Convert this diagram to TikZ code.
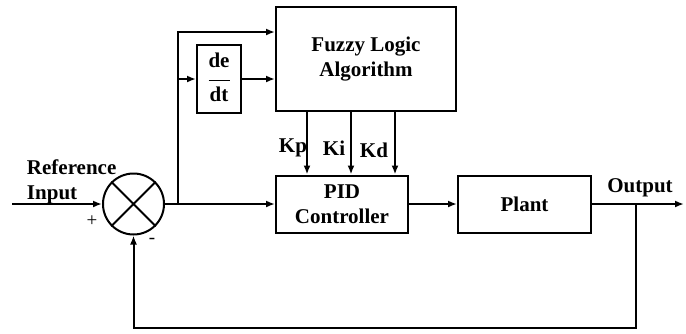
\documentclass[tikz,border=0pt]{standalone}
\usepackage{fontspec}
\setmainfont{Liberation Serif}
\usetikzlibrary{arrows.meta,calc}
\begin{document}
\begin{tikzpicture}[x=1pt,y=-1pt,
  line width=2pt,
  >={Latex[length=9pt,width=7pt]},
  blk/.style={draw,line width=2pt,rectangle,inner sep=0pt,font=\bfseries\fontsize{21}{25}\selectfont,align=center},
  lbl/.style={font=\bfseries\fontsize{21}{25}\selectfont,inner sep=0pt},
  sgn/.style={font=\fontsize{19}{22}\selectfont,inner sep=0pt}]
\useasboundingbox (0,0) rectangle (686,333);
\node[blk,minimum width=180pt,minimum height=104pt] (fuzzy) at (366,59) {Fuzzy Logic\\Algorithm};
\node[blk,minimum width=44pt,minimum height=68pt] (dedt) at (219,79) {\setlength\arrayrulewidth{1.5pt}\begin{tabular}{@{}c@{}}de\\[5pt]\hline\rule{0pt}{20pt}dt\end{tabular}};
\node[blk,minimum width=132pt,minimum height=57pt] (pid) at (342,204) {PID\\Controller};
\node[blk,minimum width=133pt,minimum height=57pt] (plant) at (524.5,204) {Plant};
\node[draw,circle,line width=2pt,minimum size=61pt,inner sep=0pt] (sum) at (133.5,204) {};
\draw (sum.45) -- (sum.225) (sum.135) -- (sum.-45);
\coordinate (in) at (12,204);
\coordinate (br) at (178,204);
\coordinate (out) at (684,204);
\coordinate (fb) at (636,204);
\coordinate (bot) at (636,328);
\draw[->] (in) -- (sum.west);
\draw[->] (sum.east) -- (pid.west);
\draw[->] (br) |- ([yshift=27pt]fuzzy.west);
\draw[->] (br |- dedt.west) -- (dedt.west);
\draw[->] (dedt.east) -- (dedt.east -| fuzzy.west);
\draw[->] ([xshift=-59pt]fuzzy.south) -- ([xshift=-59pt]fuzzy.south |- pid.north);
\draw[->] ([xshift=-15pt]fuzzy.south) -- ([xshift=-15pt]fuzzy.south |- pid.north);
\draw[->] ([xshift=29pt]fuzzy.south) -- ([xshift=29pt]fuzzy.south |- pid.north);
\draw[->] (pid.east) -- (plant.west);
\draw[->] (plant.east) -- (out);
\draw[->] (fb) -- (bot) -| (sum.south);
\node[lbl] (kp) at (293,148) {Kp};
\node[lbl] (ki) at (334,148) {Ki};
\node[lbl] (kd) at (374,150) {Kd};
\node[lbl,align=left,anchor=west] (ref) at (26,181.5) {Reference\\Input};
\node[lbl] (outlbl) at (640,188) {Output};
\node[sgn] (plus) at (92,221) {+};
\node[sgn] (minus) at (152,241) {-};
\end{tikzpicture}
\end{document}
